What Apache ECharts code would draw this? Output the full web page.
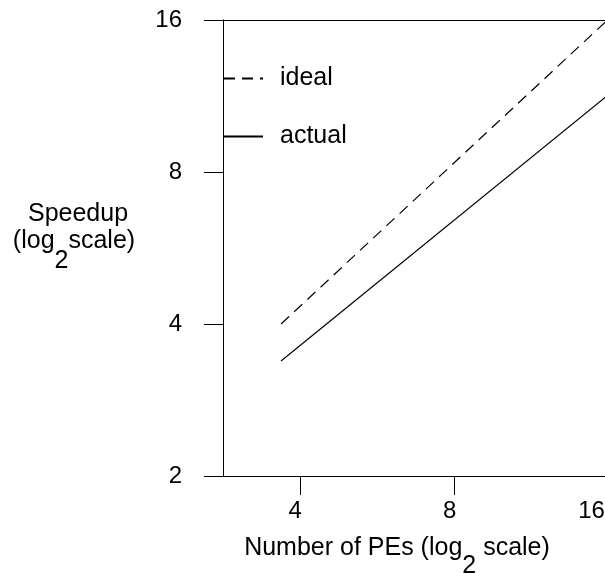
<!DOCTYPE html>
<html><head><meta charset="utf-8">
<script src="https://cdn.jsdelivr.net/npm/echarts@6/dist/echarts.min.js"></script>
<style>html,body{margin:0;padding:0;background:#fff}#c{width:605px;height:573px}</style>
</head><body><div id="c"></div>
<script>
// Data
const seriesNames = ['ideal', 'actual'];
const peValues = [3.67, 16];            // Number of PEs at line ends
const idealSpeedup = [4.0, 16.1];
const actualSpeedup = [3.38, 11.4];
const xTickValues = [4, 8, 16];
const yTickValues = [2, 4, 8, 16];

const FONT = 'Liberation Sans';
const chart = echarts.init(document.getElementById('c'), null, {renderer: 'canvas'});
const pairs = (xs, ys) => xs.map((x, i) => [x, ys[i]]);
const X_MIN = Math.pow(2, 1.5), X_MAX = 16;
const GRID_LEFT = 223, GRID_WIDTH = 386;

chart.setOption({
  animation: false,
  backgroundColor: '#fff',
  textStyle: {fontFamily: FONT, color: '#000'},
  grid: {left: GRID_LEFT, top: 20, bottom: 97, width: GRID_WIDTH, outerBoundsMode: 'none', show: false},
  xAxis: [{
    type: 'log', logBase: 2, min: X_MIN, max: X_MAX,
    axisLine: {show: true, lineStyle: {color: '#000', width: 1}},
    axisTick: {show: true, length: 19, lineStyle: {color: '#000', width: 1}, customValues: xTickValues},
    axisLabel: {show: true, margin: 23, fontSize: 24, color: '#000', fontFamily: FONT, customValues: xTickValues,
      hideOverlap: false,
      formatter: v => (v === 16 ? '{e|' + v + '}' : '{n|' + v + '}'),
      rich: {
        n: {fontSize: 24, fontFamily: FONT, color: '#000', padding: [0, 10, 0, 0]},
        e: {fontSize: 24, fontFamily: FONT, color: '#000', padding: [0, 35, 0, 0]}
      }},
    splitLine: {show: false},
    minorTick: {show: false}
  }, {
    type: 'log', logBase: 2, min: X_MIN, max: X_MAX, position: 'top',
    axisLine: {show: true, lineStyle: {color: '#000', width: 1}},
    axisTick: {show: false}, axisLabel: {show: false}, splitLine: {show: false}, minorTick: {show: false}
  }],
  yAxis: {
    type: 'log', logBase: 2, min: 2, max: 16,
    axisLine: {show: true, lineStyle: {color: '#000', width: 1}},
    axisTick: {show: true, length: 19, lineStyle: {color: '#000', width: 1}, customValues: yTickValues},
    axisLabel: {show: true, margin: 41, fontSize: 24, color: '#000', fontFamily: FONT, customValues: yTickValues},
    splitLine: {show: false}
  },
  legend: {
    data: seriesNames,
    orient: 'vertical', left: 223, top: 66, padding: 0, itemWidth: 39, itemHeight: 25, itemGap: 33,
    itemStyle: {opacity: 0},
    textStyle: {fontSize: 25, color: '#000', fontFamily: FONT, padding: [0, 0, 0, 12]},
    selectedMode: false
  },
  series: [
    {name: seriesNames[0], type: 'line', xAxisIndex: 0, data: pairs(peValues, idealSpeedup), symbol: 'none',
     lineStyle: {color: '#000', width: 1.2, type: [11, 7]}, itemStyle: {color: '#000'}},
    {name: seriesNames[1], type: 'line', xAxisIndex: 0, data: pairs(peValues, actualSpeedup), symbol: 'none',
     lineStyle: {color: '#000', width: 1.2, type: 'solid'}, itemStyle: {color: '#000'}}
  ],
  graphic: [
    {type: 'text', x: 78, y: 214, style: {text: 'Speedup', font: '25px "Liberation Sans"', fill: '#000', align: 'center', verticalAlign: 'middle'}},
    {type: 'text', x: 74, y: 241, style: {text: '(log{s|2}scale)', font: '25px "Liberation Sans"', fill: '#000', align: 'center', verticalAlign: 'middle',
      rich: {s: {fontSize: 25, fontFamily: FONT, padding: [40, 0, 0, 0], verticalAlign: 'middle'}}}},
    {type: 'text', x: 397, y: 548, style: {text: 'Number of PEs (log{s|2} scale)', font: '25px "Liberation Sans"', fill: '#000', align: 'center', verticalAlign: 'middle',
      rich: {s: {fontSize: 25, fontFamily: FONT, padding: [36, 0, 0, 0], verticalAlign: 'middle'}}}}
  ]
});

// Keep the x scale where the reference has it: 4 PEs at x≈300, 16 PEs at x≈609 (just past the right edge).
(function fitX() {
  const want4 = 300.2, want16 = 609;
  let left = GRID_LEFT, width = GRID_WIDTH;
  for (let k = 0; k < 3; k++) {
    let p4, p16;
    try {
      p4 = chart.convertToPixel({xAxisIndex: 0}, 4);
      p16 = chart.convertToPixel({xAxisIndex: 0}, 16);
    } catch (e) { return; }
    if (!isFinite(p4) || !isFinite(p16)) return;
    if (Math.abs(p4 - want4) < 0.5 && Math.abs(p16 - want16) < 0.5) return;
    const s = (want16 - want4) / (p16 - p4);
    width = width * s;
    left = left + (want4 - (left + (p4 - left) * s));
    chart.setOption({grid: {left: left, width: width}});
  }
})();
</script></body></html>
